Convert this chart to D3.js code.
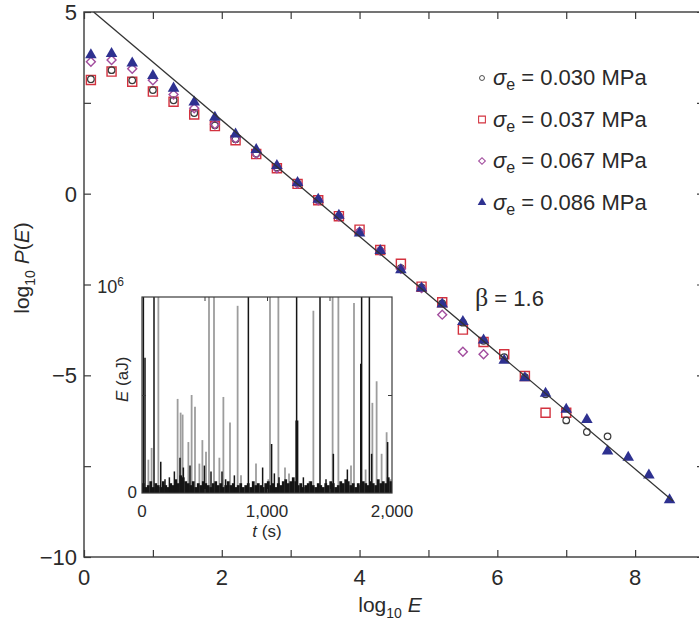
<!DOCTYPE html>
<html>
<head>
<meta charset="utf-8">
<script src="https://cdn.jsdelivr.net/npm/d3@7/dist/d3.min.js"></script>
<style>
  body { margin: 0; background: #fff; }
  text { font-family: "Liberation Sans", Arial, sans-serif; fill: #2a2a2a; }
</style>
</head>
<body>
<svg id="chart" width="699" height="624"></svg>
<script>
// log10 E bins (centres)
const logE = [0.1, 0.4, 0.7, 1.0, 1.3, 1.6, 1.9, 2.2, 2.5, 2.8, 3.1, 3.4, 3.7, 4.0, 4.3,
  4.6, 4.9, 5.2, 5.5, 5.8, 6.1, 6.4, 6.7, 7.0, 7.3, 7.6, 7.9, 8.2, 8.5];

// log10 P(E) per stress level
const p030 = [3.15, 3.40, 3.12, 2.85, 2.57, 2.22, 1.88, 1.50, 1.10, 0.72, 0.28, -0.18, -0.62,
  -1.05, -1.57, -2.05, -2.58, -3.02, -3.55, -4.05, -4.50, -5.05, -5.52, -6.24, -6.56, -6.68];
const p037 = [3.13, 3.36, 3.08, 2.81, 2.53, 2.18, 1.86, 1.47, 1.09, 0.70, 0.27, -0.18, -0.62,
  -0.99, -1.55, -1.93, -2.56, -2.99, -3.74, -4.08, -4.42, -5.02, -6.03, -6.03];
const p067 = [3.63, 3.68, 3.44, 3.12, 2.73, 2.35, 1.91, 1.52, 1.10, 0.70, 0.28, -0.18, -0.62,
  -1.05, -1.57, -2.07, -2.60, -3.33, -4.35, -4.42];
const p086 = [3.82, 3.85, 3.59, 3.25, 2.90, 2.52, 2.10, 1.64, 1.21, 0.77, 0.30, -0.16, -0.60,
  -1.09, -1.57, -2.10, -2.60, -3.04, -3.52, -4.03, -4.59, -5.07, -5.50, -5.94, -6.22, -7.09,
  -7.26, -7.75, -8.43];

const legendLabels = ["0.030", "0.037", "0.067", "0.086"];

// power-law fit, beta = 1.6
const fitLogE = [0.14, 8.55];
const fitLogP = [5.0, -8.46];

const xTicks = [0, 1, 2, 3, 4, 5, 6, 7, 8, 9];
const xLabels = [0, 2, 4, 6, 8];
const yTicks = [-10, -7.5, -5, -2.5, 0, 2.5, 5];
const yLabels = [-10, -5, 0, 5];

// inset: acoustic emission energy vs time (E in units of 10^6 aJ)
const grayT = [51, 77, 131, 285, 309, 325, 371, 397, 424, 459, 483, 512, 536, 576, 619, 651,
  704, 765, 792, 912, 1011, 1024, 1091, 1144, 1176, 1339, 1371, 1525, 1571, 1672, 1696, 1789,
  1843, 1877, 1917, 1957, 1989];
const grayE = [0.17, 0.23, 1.5, 0.48, 0.41, 0.40, 0.26, 0.50, 0.44, 0.15, 0.27, 0.21, 1.5, 1.5,
  0.18, 0.49, 0.36, 0.955, 0.09, 0.15, 0.07, 1.5, 1.5, 0.13, 0.10, 0.06, 0.93, 1.5, 1.5, 0.14,
  0.97, 0.12, 0.46, 0.57, 0.20, 0.31, 0.07];
const blackT = [11, 24, 96, 150, 184, 219, 259, 304, 331, 384, 499, 552, 640, 669, 739, 851,
  965, 1037, 1059, 1096, 1233, 1237, 1245, 1291, 1424, 1472, 1531, 1643, 1750, 1757, 1819,
  1837, 1965];
const blackE = [1.5, 0.69, 1.5, 0.16, 0.07, 0.08, 0.11, 0.18, 0.13, 0.14, 0.14, 0.11, 0.11,
  0.07, 0.09, 1.5, 0.13, 0.25, 0.10, 0.08, 0.37, 1.5, 0.37, 0.08, 1.5, 0.07, 0.20, 0.12, 0.66,
  1.5, 1.5, 0.20, 0.26];
// background noise, one value every 20 s
const noiseE = [0.05, 0.03, 0.04, 0.06, 0.03, 0.05, 0.04, 0.03, 0.06, 0.04,
  0.03, 0.05, 0.04, 0.07, 0.05, 0.09, 0.08, 0.06, 0.05, 0.04,
  0.06, 0.03, 0.05, 0.04, 0.06, 0.05, 0.04, 0.03, 0.05, 0.06,
  0.04, 0.05, 0.03, 0.04, 0.06, 0.04, 0.05, 0.03, 0.04, 0.05,
  0.03, 0.04, 0.05, 0.03, 0.06, 0.04, 0.05, 0.04, 0.03, 0.05,
  0.06, 0.04, 0.05, 0.03, 0.05, 0.04, 0.06, 0.07, 0.05, 0.06,
  0.08, 0.06, 0.04, 0.05, 0.03, 0.04, 0.05, 0.06, 0.04, 0.03,
  0.05, 0.04, 0.03, 0.05, 0.04, 0.06, 0.05, 0.03, 0.04, 0.06,
  0.05, 0.07, 0.06, 0.04, 0.05, 0.03, 0.05, 0.04, 0.06, 0.05,
  0.04, 0.06, 0.05, 0.04, 0.07, 0.05, 0.06, 0.05, 0.08, 0.06];

const svg = d3.select("#chart");
const frameColor = "#3a3a3a";

let x = d3.scaleLinear().domain([0, 9]).range([84, 704]);
let y = d3.scaleLinear().domain([-10, 5]).range([557, 12]);

// ---- inset ----
let ix = d3.scaleLinear().domain([0, 2000]).range([142, 392]);
let iy = d3.scaleLinear().domain([0, 1]).range([493, 297]);

svg.append("clipPath").attr("id", "insetClip")
  .append("rect")
  .attr("x", ix(0)).attr("y", iy(1))
  .attr("width", ix(2000) - ix(0)).attr("height", iy(0) - iy(1));

let inset = svg.append("g").attr("clip-path", "url(#insetClip)");

inset.selectAll("line.gray")
  .data(grayT)
  .enter().append("line")
  .attr("class", "gray")
  .attr("x1", (d) => ix(d))
  .attr("x2", (d) => ix(d))
  .attr("y1", iy(0))
  .attr("y2", (d, i) => iy(grayE[i]))
  .attr("stroke", "#9d9d9d")
  .attr("stroke-width", 1.8);

inset.selectAll("line.noise")
  .data(noiseE)
  .enter().append("line")
  .attr("class", "noise")
  .attr("x1", (d, i) => ix(10 + i * 20))
  .attr("x2", (d, i) => ix(10 + i * 20))
  .attr("y1", iy(0))
  .attr("y2", (d) => iy(d))
  .attr("stroke", "#151515")
  .attr("stroke-width", 2.8);

inset.selectAll("line.black")
  .data(blackT)
  .enter().append("line")
  .attr("class", "black")
  .attr("x1", (d) => ix(d))
  .attr("x2", (d) => ix(d))
  .attr("y1", iy(0))
  .attr("y2", (d, i) => iy(blackE[i]))
  .attr("stroke", "#151515")
  .attr("stroke-width", 1.5);

svg.append("rect")
  .attr("x", ix(0)).attr("y", iy(1))
  .attr("width", ix(2000) - ix(0)).attr("height", iy(0) - iy(1))
  .attr("fill", "none").attr("stroke", frameColor).attr("stroke-width", 1.2);

// inset ticks (inward)
let insetAxes = [
  d3.axisBottom(ix).tickValues([500, 1000, 1500]).tickSize(-4).tickFormat(""),
  d3.axisTop(ix).tickValues([500, 1000, 1500]).tickSize(-4).tickFormat(""),
  d3.axisLeft(iy).tickValues([0.5]).tickSize(-4).tickFormat(""),
  d3.axisRight(iy).tickValues([0.5]).tickSize(-4).tickFormat("")
];
let insetPos = [`translate(0,${iy(0)})`, `translate(0,${iy(1)})`,
  `translate(${ix(0)},0)`, `translate(${ix(2000)},0)`];
insetAxes.forEach((ax, i) => {
  let g = svg.append("g").attr("transform", insetPos[i]).call(ax);
  g.select(".domain").remove();
  g.selectAll(".tick line").attr("stroke", frameColor);
});

svg.selectAll("text.itick")
  .data([0, 1000, 2000])
  .enter().append("text")
  .attr("class", "itick")
  .attr("x", (d) => ix(d))
  .attr("y", 517)
  .attr("text-anchor", "middle")
  .style("font-size", "17px")
  .text((d) => d3.format(",")(d));

svg.append("text")
  .attr("x", ix(0) - 5).attr("y", iy(0) + 5)
  .attr("text-anchor", "end")
  .style("font-size", "17px")
  .text("0");

let e6 = svg.append("text")
  .attr("x", 124).attr("y", 293)
  .attr("text-anchor", "end")
  .style("font-size", "18px");
e6.append("tspan").text("10");
e6.append("tspan").attr("dy", -7).style("font-size", "12px").text("6");

let tl = svg.append("text")
  .attr("x", ix(1000)).attr("y", 537)
  .attr("text-anchor", "middle")
  .style("font-size", "17px");
tl.append("tspan").style("font-style", "italic").text("t");
tl.append("tspan").text(" (s)");

let el = svg.append("text")
  .attr("transform", `translate(128,${iy(0.58)}) rotate(-90)`)
  .attr("text-anchor", "middle")
  .style("font-size", "17px");
el.append("tspan").style("font-style", "italic").text("E");
el.append("tspan").text(" (aJ)");

// ---- main frame & axes ----
svg.append("rect")
  .attr("x", x(0)).attr("y", y(5))
  .attr("width", x(9) - x(0)).attr("height", y(-10) - y(5))
  .attr("fill", "none").attr("stroke", frameColor).attr("stroke-width", 1.4);

let mainAxes = [
  d3.axisBottom(x).tickValues(xTicks).tickSize(-7).tickFormat(""),
  d3.axisTop(x).tickValues(xTicks).tickSize(-7).tickFormat(""),
  d3.axisLeft(y).tickValues(yTicks).tickSize(-7).tickFormat(""),
  d3.axisRight(y).tickValues(yTicks).tickSize(-7).tickFormat("")
];
let mainPos = [`translate(0,${y(-10)})`, `translate(0,${y(5)})`,
  `translate(${x(0)},0)`, `translate(${x(9)},0)`];
mainAxes.forEach((ax, i) => {
  let g = svg.append("g").attr("transform", mainPos[i]).call(ax);
  g.select(".domain").remove();
  g.selectAll(".tick line").attr("stroke", frameColor).attr("stroke-width", 1.2);
});

svg.selectAll("text.xtick")
  .data(xLabels)
  .enter().append("text")
  .attr("class", "xtick")
  .attr("x", (d) => x(d))
  .attr("y", y(-10) + 28)
  .attr("text-anchor", "middle")
  .style("font-size", "22px")
  .text((d) => d);

svg.selectAll("text.ytick")
  .data(yLabels)
  .enter().append("text")
  .attr("class", "ytick")
  .attr("x", x(0) - 7)
  .attr("y", (d) => y(d) + 8)
  .attr("text-anchor", "end")
  .style("font-size", "22px")
  .text((d) => (d < 0 ? "\u2212" + Math.abs(d) : d));

let xt = svg.append("text")
  .attr("x", 390).attr("y", 612)
  .attr("text-anchor", "middle")
  .style("font-size", "21px");
xt.append("tspan").text("log");
xt.append("tspan").attr("dy", 6).style("font-size", "14px").text("10");
xt.append("tspan").attr("dy", -6).text(" ");
xt.append("tspan").style("font-style", "italic").text("E");

let yt = svg.append("text")
  .attr("transform", "translate(29,268) rotate(-90)")
  .attr("text-anchor", "middle")
  .style("font-size", "21px");
yt.append("tspan").text("log");
yt.append("tspan").attr("dy", 6).style("font-size", "14px").text("10");
yt.append("tspan").attr("dy", -6).text(" ");
yt.append("tspan").style("font-style", "italic").text("P");
yt.append("tspan").text("(");
yt.append("tspan").style("font-style", "italic").text("E");
yt.append("tspan").text(")");

// ---- data points ----
const series = [
  { vals: p037, shape: "square" },
  { vals: p030, shape: "circle" },
  { vals: p067, shape: "diamond" },
  { vals: p086, shape: "triangle" }
];
const legendOrder = ["circle", "square", "diamond", "triangle"];

function drawMarker(sel, shape) {
  if (shape === "square") {
    sel.append("path").attr("d", d3.symbol(d3.symbolSquare, 82)())
      .attr("fill", "none").attr("stroke", "#d3323f").attr("stroke-width", 1.4);
  } else if (shape === "circle") {
    sel.append("circle").attr("r", 3.3)
      .attr("fill", "none").attr("stroke", "#3b3b3b").attr("stroke-width", 1.2);
  } else if (shape === "diamond") {
    sel.append("path").attr("d", d3.symbol(d3.symbolSquare, 40)())
      .attr("transform", "rotate(45)")
      .attr("fill", "none").attr("stroke", "#a24d9e").attr("stroke-width", 1.4);
  } else {
    sel.append("path").attr("d", d3.symbol(d3.symbolTriangle, 58)())
      .attr("fill", "#2e3190");
  }
}

series.forEach((s) => {
  let pts = svg.append("g").selectAll("g")
    .data(s.vals)
    .enter().append("g")
    .attr("transform", (d, i) => `translate(${x(logE[i])},${y(d)})`);
  drawMarker(pts, s.shape);
});

svg.append("line")
  .attr("x1", x(fitLogE[0])).attr("y1", y(fitLogP[0]))
  .attr("x2", x(fitLogE[1])).attr("y2", y(fitLogP[1]))
  .attr("stroke", "#333").attr("stroke-width", 1.3);

// ---- legend ----
legendOrder.forEach((shape, i) => {
  let ly = 78 + i * 41.5;
  let g = svg.append("g").attr("transform", `translate(482,${ly})`);
  let m = g.append("g").attr("transform", "scale(0.75)");
  drawMarker(m, shape);
  let t = g.append("text").attr("x", 11).attr("y", 7).style("font-size", "22px");
  t.append("tspan").style("font-style", "italic").text("\u03c3");
  t.append("tspan").attr("dy", 5).style("font-size", "16px").text("e");
  t.append("tspan").attr("dy", -5).text(" = " + legendLabels[i] + " MPa");
});

// ---- beta annotation ----
let bt = svg.append("text").attr("x", 475).attr("y", 306).style("font-size", "22px");
bt.append("tspan").style("font-family", "'Liberation Serif', serif").style("font-size", "26px").text("\u03b2");
bt.append("tspan").text(" = 1.6");
</script>
</body>
</html>
